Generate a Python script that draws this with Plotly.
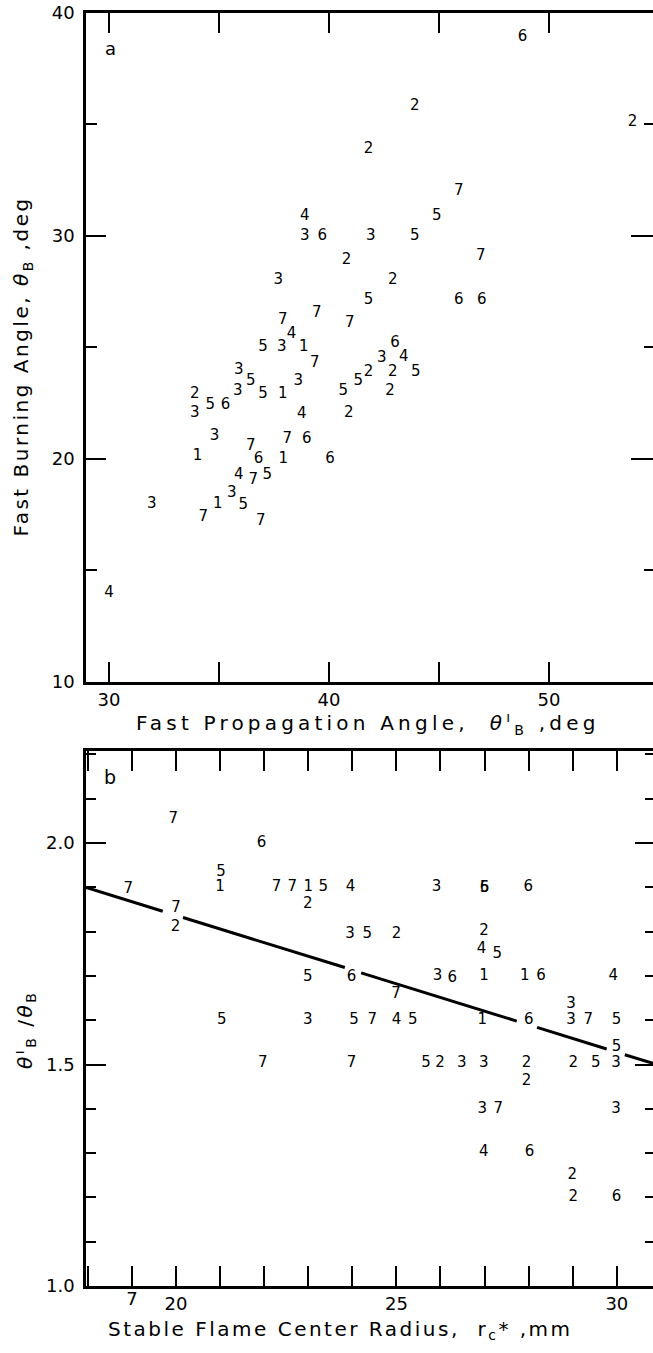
import plotly.graph_objects as go

# ---- Panel a: fast burning angle vs fast propagation angle ----
a_x = [48.8, 43.9, 53.8, 41.8, 45.9, 44.9, 38.9, 38.9, 39.7, 41.9, 43.9, 40.8, 37.7, 42.9,
       46.9, 41.8, 45.9, 46.95, 39.45, 40.95, 37.9, 38.3, 37.0, 37.85, 38.86, 39.36, 35.9,
       36.45, 38.6, 33.9, 35.85, 37.0, 37.9, 40.65, 41.33, 41.8, 33.9, 34.6, 35.3, 38.76,
       40.9, 34.8, 36.45, 38.1, 38.99, 34.03, 36.8, 37.92, 40.05, 35.9, 36.56, 37.2, 35.58,
       36.1, 34.94, 31.94, 34.29, 36.9, 30.0, 43.0, 42.4, 43.4, 42.9, 43.95, 42.77]
a_y = [38.9, 35.8, 35.1, 33.9, 32.0, 30.9, 30.9, 30.0, 30.0, 30.0, 30.0, 28.9, 28.0, 28.0,
       29.1, 27.1, 27.1, 27.1, 26.55, 26.1, 26.2, 25.6, 25.0, 25.0, 25.0, 24.3, 24.0,
       23.5, 23.5, 22.9, 23.05, 22.9, 22.9, 23.05, 23.47, 23.9, 22.05, 22.4, 22.4, 22.0,
       22.05, 21.0, 20.55, 20.9, 20.9, 20.1, 20.0, 20.0, 20.0, 19.25, 19.06, 19.25, 18.46,
       17.94, 17.98, 17.98, 17.38, 17.19, 13.98, 25.2, 24.5, 24.55, 23.9, 23.9, 23.02]
a_lbl = ["6", "2", "2", "2", "7", "5", "4", "3", "6", "3", "5", "2", "3", "2",
         "7", "5", "6", "6", "7", "7", "7", "4", "5", "3", "1", "7", "3",
         "5", "3", "2", "3", "5", "1", "5", "5", "2", "3", "5", "6", "4",
         "2", "3", "7", "7", "6", "1", "6", "1", "6", "4", "7", "5", "3",
         "5", "1", "3", "7", "7", "4", "6", "3", "4", "2", "5", "2"]

# ---- Panel b: ratio vs stable flame center radius ----
b_x = [19.94, 21.94, 21.02, 21.0, 18.92, 22.28, 22.64, 23.0, 23.34, 23.96, 22.99, 20.0, 19.99,
       23.95, 24.34, 25.0, 22.99, 23.98, 25.91, 27.0, 27.0, 27.99, 26.99, 26.93, 27.29,
       25.93, 26.27, 26.99, 27.91, 28.28, 29.92, 24.99, 28.96,
       21.04, 22.99, 24.04, 24.45, 25.0, 25.37, 26.95, 28.0, 28.96, 29.35, 29.99, 29.99,
       21.97, 23.98, 25.67, 25.99, 26.48, 26.98, 27.95, 27.95, 29.01, 29.52, 29.98,
       26.95, 27.31, 29.98, 26.98, 28.02, 28.99, 29.01, 29.99]
b_y = [2.053, 1.999, 1.935, 1.90, 1.895, 1.90, 1.90, 1.90, 1.90, 1.90, 1.862, 1.853, 1.809,
       1.794, 1.794, 1.794, 1.698, 1.698, 1.90, 1.898, 1.898, 1.90, 1.80, 1.76, 1.75,
       1.70, 1.695, 1.70, 1.70, 1.70, 1.70, 1.659, 1.637,
       1.60, 1.60, 1.60, 1.60, 1.60, 1.60, 1.60, 1.60, 1.60, 1.60, 1.60, 1.54,
       1.504, 1.504, 1.504, 1.504, 1.504, 1.504, 1.504, 1.462, 1.504, 1.504, 1.504,
       1.399, 1.399, 1.399, 1.303, 1.303, 1.25, 1.20, 1.20]
b_lbl = ["7", "6", "5", "1", "7", "7", "7", "1", "5", "4", "2", "7", "2",
         "3", "5", "2", "5", "6", "3", "6", "5", "6", "2", "4", "5",
         "3", "6", "1", "1", "6", "4", "7", "3",
         "5", "3", "5", "7", "4", "5", "1", "6", "3", "7", "5", "5",
         "7", "7", "5", "2", "3", "3", "2", "2", "2", "5", "3",
         "3", "7", "3", "4", "6", "2", "2", "6"]

# fitted line (drawn in pieces, broken where it passes labels)
fit_x = [17.96, 19.7, None, 20.16, 23.83, None, 24.2, 27.73, None, 28.19, 29.77, None, 30.18, 30.82]
fit_y = [1.900, 1.846, None, 1.832, 1.719, None, 1.707, 1.598, None, 1.584, 1.535, None, 1.522, 1.503]

FONT = "DejaVu Sans"
fig = go.Figure()

fig.add_trace(go.Scatter(x=a_x, y=a_y, text=a_lbl, mode="text", xaxis="x", yaxis="y",
                         textfont=dict(family=FONT, size=15, color="black"),
                         textposition="middle center", showlegend=False, hoverinfo="skip"))
fig.add_trace(go.Scatter(x=fit_x, y=fit_y, mode="lines", xaxis="x2", yaxis="y2",
                         line=dict(color="black", width=3), connectgaps=False,
                         showlegend=False, hoverinfo="skip"))
fig.add_trace(go.Scatter(x=b_x, y=b_y, text=b_lbl, mode="text", xaxis="x2", yaxis="y2",
                         textfont=dict(family=FONT, size=15, color="black"),
                         textposition="middle center", showlegend=False, hoverinfo="skip"))

dom_a = [0.4745, 1.0]
dom_b = [0.0, 0.4203]
xa_range = [28.955, 54.73]
ya_range = [10, 40]
xb_range = [17.96, 30.82]
yb_range = [1.0, 2.208]

tickfont = dict(family=FONT, size=18, color="black")
common = dict(showgrid=False, zeroline=False, showline=True, linecolor="black",
              ticks="inside", tickcolor="black", tickwidth=2, tickfont=tickfont)

fig.update_layout(
    width=653, height=1353,
    margin=dict(l=86, r=0, t=13, b=67),
    paper_bgcolor="white", plot_bgcolor="white",
    xaxis=dict(domain=[0, 1], anchor="y", range=xa_range, tick0=0, dtick=10, ticklen=20,
               linewidth=2.5, mirror="allticks",
               minor=dict(tick0=0, dtick=5, ticklen=11, ticks="inside", tickcolor="black", tickwidth=2),
               **common),
    yaxis=dict(domain=dom_a, anchor="x", range=ya_range, tick0=0, dtick=10, ticklen=20,
               linewidth=2.5, ticklabelstandoff=5,
               minor=dict(tick0=0, dtick=5, ticklen=11, ticks="inside", tickcolor="black", tickwidth=2),
               **common),
    yaxis3=dict(overlaying="y", anchor="x", side="right", range=ya_range, tick0=0, dtick=10,
                ticklen=22, showticklabels=False, showgrid=False, zeroline=False, showline=False,
                ticks="inside", tickcolor="black", tickwidth=2,
                minor=dict(tick0=0, dtick=5, ticklen=9, ticks="inside", tickcolor="black", tickwidth=2)),
    xaxis2=dict(domain=[0, 1], anchor="y2", range=xb_range, tick0=0, dtick=5, ticklen=20,
                linewidth=2.5, mirror="allticks",
                minor=dict(tick0=0, dtick=1, ticklen=10, ticks="inside", tickcolor="black", tickwidth=2),
                **common),
    xaxis4=dict(overlaying="x2", anchor="y2", side="bottom", range=xb_range,
                tickmode="array", tickvals=[19], ticktext=["7"], ticklen=10,
                showgrid=False, zeroline=False, showline=False, ticks="inside",
                tickcolor="black", tickwidth=2, tickfont=tickfont),
    yaxis2=dict(domain=dom_b, anchor="x2", range=yb_range, tick0=0, dtick=0.5, ticklen=20,
                tickformat=".1f", linewidth=2.5, ticklabelstandoff=5,
                minor=dict(tick0=0, dtick=0.1, ticklen=10, ticks="inside", tickcolor="black", tickwidth=2),
                **common),
    yaxis4=dict(overlaying="y2", anchor="x2", side="right", range=yb_range, tick0=0, dtick=0.5,
                ticklen=18, showticklabels=False, showgrid=False, zeroline=False, showline=False,
                ticks="inside", tickcolor="black", tickwidth=2,
                minor=dict(tick0=0, dtick=0.1, ticklen=8, ticks="inside", tickcolor="black", tickwidth=2)),
)

# dummy traces to activate overlay axes
fig.add_trace(go.Scatter(x=[None], y=[None], mode="lines", xaxis="x", yaxis="y3", showlegend=False, hoverinfo="skip"))
fig.add_trace(go.Scatter(x=[None], y=[None], mode="lines", xaxis="x4", yaxis="y2", showlegend=False, hoverinfo="skip"))
fig.add_trace(go.Scatter(x=[None], y=[None], mode="lines", xaxis="x2", yaxis="y4", showlegend=False, hoverinfo="skip"))

title_font = dict(family=FONT, size=20, color="black")
annotations = [
    dict(text="<span style='letter-spacing:4.2px'>Fast Propagation Angle,  <i>θ</i><sup>ı</sup><sub>B</sub> ,deg</span>",
         xref="paper", yref="paper", x=0.497, y=0.4418, xanchor="center", yanchor="middle",
         showarrow=False, font=title_font),
    dict(text="<span style='letter-spacing:2.5px'>Stable Flame Center Radius,  r<sub>c</sub>* ,mm</span>",
         xref="paper", yref="paper", x=0.4497, y=-0.0346, xanchor="center", yanchor="middle",
         showarrow=False, font=title_font),
    dict(text="<span style='letter-spacing:2.5px'>Fast Burning Angle, <i>θ</i><sub>B</sub> ,deg</span>",
         xref="paper", yref="paper", x=-0.112, y=0.7227, xanchor="center", yanchor="middle",
         textangle=-90, showarrow=False, font=title_font),
    dict(text="<span style='letter-spacing:2.5px'><i>θ</i><sup>ı</sup><sub>B</sub> /<i>θ</i><sub>B</sub></span>",
         xref="paper", yref="paper", x=-0.108, y=0.201, xanchor="center", yanchor="middle",
         textangle=-90, showarrow=False, font=title_font),
    dict(text="a", xref="x", yref="y", x=30.05, y=38.4, showarrow=False,
         font=dict(family=FONT, size=18, color="black")),
    dict(text="b", xref="x2", yref="y2", x=18.5, y=2.149, showarrow=False,
         font=dict(family=FONT, size=19, color="black")),
]
fig.update_layout(annotations=annotations)

fig.write_html("out.html")
